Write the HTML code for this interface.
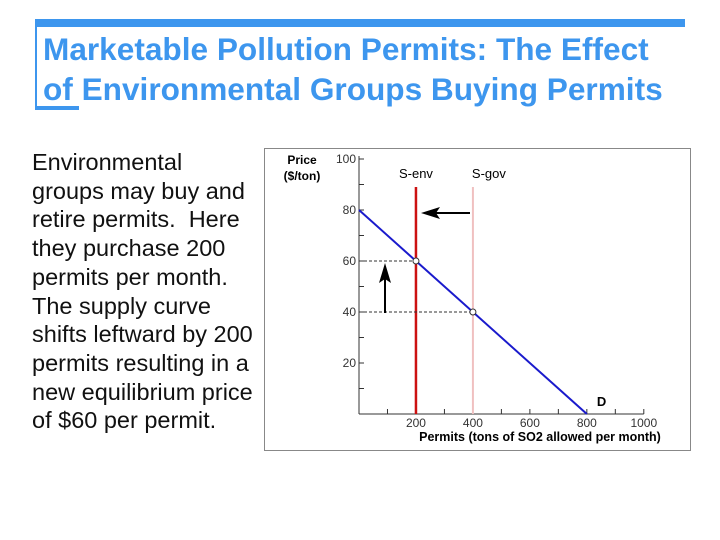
<!DOCTYPE html>
<html><head><meta charset="utf-8"><style>
body{margin:0;width:720px;height:540px;background:#fff;position:relative;overflow:hidden;font-family:"Liberation Sans",sans-serif}
.t{position:absolute;left:43px;top:29px;font-size:31.6px;font-weight:bold;color:#3d96ee;line-height:40px;white-space:nowrap}
.b{position:absolute;left:32px;top:148px;font-size:23.5px;line-height:28.7px;color:#111;white-space:nowrap}
</style></head><body>
<div style="position:absolute;left:35px;top:19px;width:650px;height:8px;background:#3d96ee"></div>
<div style="position:absolute;left:35px;top:19px;width:2px;height:90px;background:#3d96ee"></div>
<div style="position:absolute;left:35px;top:106px;width:44px;height:4px;background:#3d96ee"></div>
<div class="t">Marketable Pollution Permits: The Effect<br>of Environmental Groups Buying Permits</div>
<div class="b">Environmental<br>groups may buy and<br>retire permits.&nbsp; Here<br>they purchase 200<br>permits per month.<br>The supply curve<br>shifts leftward by 200<br>permits resulting in a<br>new equilibrium price<br>of $60 per permit.</div>
<svg id="c" width="720" height="540" style="position:absolute;left:0;top:0" font-family="Liberation Sans, sans-serif"></svg>
<script>
const xTicks=[200,400,600,800,1000];
const yTicks=[20,40,60,80,100];
const demandQ=[0,800];
const demandP=[80,0];
const supplyGov=400, supplyEnv=200;
const eqQ=[200,400], eqP=[60,40];
const X=q=>359+q*0.2848, Y=p=>414-p*2.55;
const s=document.getElementById('c');
function el(t,a,txt){const e=document.createElementNS('http://www.w3.org/2000/svg',t);for(const k in a)e.setAttribute(k,a[k]);if(txt!==undefined)e.textContent=txt;s.appendChild(e);return e;}
let e;
e=el('rect',{x:264.5,y:148.5,width:426,height:302,fill:'#fff',stroke:'#888'});

e=el('line',{x1:X(0),y1:156,x2:X(0),y2:Y(0),stroke:'#333'});

e=el('line',{x1:X(0),y1:Y(0),x2:X(1000),y2:Y(0),stroke:'#333'});

for(let v=10;v<=100;v+=10){e=el('line',{x1:X(0),y1:Y(v),x2:X(0)+5,y2:Y(v),stroke:'#333'});
}
for(let v=100;v<=1000;v+=100){e=el('line',{x1:X(v),y1:Y(0),x2:X(v),y2:Y(0)-5,stroke:'#333'});
}
yTicks.forEach(v=>{e=el('text',{x:X(0)-3,y:Y(v)+4,'font-size':12,'text-anchor':'end',fill:'#333'},String(v));
});
xTicks.forEach(v=>{e=el('text',{x:X(v),y:Y(0)+13,'font-size':12,'text-anchor':'middle',fill:'#333'},String(v));
});
e=el('text',{x:302,y:164,'font-size':12,'font-weight':'bold','text-anchor':'middle'},'Price');

e=el('text',{x:302,y:180,'font-size':12,'font-weight':'bold','text-anchor':'middle'},'($/ton)');

e=el('text',{x:540,y:441,'font-size':12.5,'font-weight':'bold','text-anchor':'middle'},'Permits (tons of SO2 allowed per month)');

e=el('line',{x1:X(supplyGov),y1:187,x2:X(supplyGov),y2:Y(0),stroke:'#f0c0c0','stroke-width':2});

e=el('line',{x1:X(supplyEnv),y1:187,x2:X(supplyEnv),y2:Y(0),stroke:'#cc1111','stroke-width':2.5});

e=el('text',{x:X(supplyEnv),y:178,'font-size':13,'text-anchor':'middle'},'S-env');

e=el('text',{x:X(supplyGov)+16,y:178,'font-size':13,'text-anchor':'middle'},'S-gov');

e=el('line',{x1:X(demandQ[0]),y1:Y(demandP[0]),x2:X(demandQ[1]),y2:Y(demandP[1]),stroke:'#1a1acc','stroke-width':2});

e=el('text',{x:X(800)+10,y:Y(0)-8,'font-size':13,'font-weight':'bold'},'D');

eqQ.forEach((q,i)=>{
e=el('line',{x1:X(0),y1:Y(eqP[i]),x2:X(q),y2:Y(eqP[i]),stroke:'#333','stroke-dasharray':'3,2'});

e=el('circle',{cx:X(q),cy:Y(eqP[i]),r:3,fill:'#fff',stroke:'#333'});
});
e=el('line',{x1:470,y1:213,x2:432,y2:213,stroke:'#000','stroke-width':2});

e=el('polygon',{points:'421,213,440,207,436,213,440,219',fill:'#000'});

e=el('line',{x1:385,y1:313,x2:385,y2:272,stroke:'#000','stroke-width':2});

e=el('polygon',{points:'385,263,379,283,385,279,391,283',fill:'#000'});

</script>
</body></html>
